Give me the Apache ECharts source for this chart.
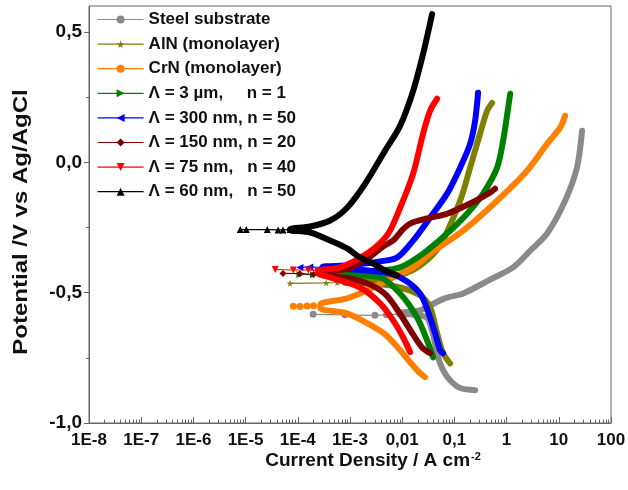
<!DOCTYPE html>
<html><head><meta charset="utf-8">
<script src="https://cdn.jsdelivr.net/npm/echarts@6/dist/echarts.min.js"></script>
<style>html,body{margin:0;padding:0;background:#fff}#c{width:628px;height:490px}</style>
</head><body><div id="c"></div>
<script>
// ---- axes ----
const xTickValues = [1e-8,1e-7,1e-6,1e-5,1e-4,1e-3,1e-2,1e-1,1,10,100];
const xTickLabels = ['1E-8','1E-7','1E-6','1E-5','1E-4','1E-3','0,01','0,1','1','10','100'];
const xMinorMultipliers = [2,3,4,5,6,7,8,9];
const yTickValues = [-1,-0.5,0,0.5];
const yTickLabels = ['-1,0','-0,5','0,0','0,5'];
const yMinorTicks = [-0.75,-0.25,0.25];

// ---- series names / colors ----
const seriesNames = ['Steel substrate','AlN (monolayer)','CrN (monolayer)','\u039b = 3 \u00b5m,     n = 1','\u039b = 300 nm, n = 50','\u039b = 150 nm, n = 20','\u039b = 75 nm,   n = 40','\u039b = 60 nm,   n = 50'];
const seriesColors = ['#8a8a8a','#808000','#ff8000','#008000','#0000ff','#800000','#ff0000','#000000'];

// ---- data: [current density A/cm2, potential V] ----
const steelTail = [[1.97e-4,-0.583],[8.0e-4,-0.585],[3.0e-3,-0.587],[5.0e-3,-0.585],[9.0e-3,-0.581]];
const steelCathodic = [[0.249,-0.874],[0.129,-0.866],[0.0826,-0.836],[0.0607,-0.797],[0.0488,-0.748],[0.039,-0.66],[0.031,-0.60],[0.022,-0.587],[0.0142,-0.583],[0.009,-0.582]];
const steelAnodic = [[0.009,-0.579],[0.022,-0.568],[0.0342,-0.549],[0.065,-0.522],[0.147,-0.503],[0.48,-0.45],[1.33,-0.403],[2.8,-0.34],[5.96,-0.273],[13.2,-0.147],[22.3,-0.02],[27.9,0.121]];

const alnTail = [[7.1e-5,-0.464],[3.5e-4,-0.462],[5.7e-4,-0.461],[8.0e-4,-0.46]];
const alnCathodic = [[0.0826,-0.771],[0.0607,-0.732],[0.0467,-0.656],[0.0342,-0.556],[0.022,-0.51],[0.00912,-0.48],[0.003,-0.466],[0.0008,-0.462]];
const alnAnodic = [[0.0008,-0.458],[0.003,-0.452],[0.0114,-0.426],[0.0251,-0.388],[0.053,-0.319],[0.129,-0.147],[0.2,-0.02],[0.31,0.11],[0.423,0.198],[0.527,0.228]];

const crnTail = [[8.2e-5,-0.552],[1.1e-4,-0.553],[1.5e-4,-0.551],[2.0e-4,-0.55]];
const crnCathodic = [[0.0274,-0.824],[0.022,-0.809],[0.0142,-0.767],[0.0091,-0.72],[0.0047,-0.66],[0.00213,-0.617],[0.00088,-0.579],[0.00027,-0.56]];
const crnAnodic = [[0.00027,-0.545],[0.00088,-0.522],[0.00213,-0.491],[0.00514,-0.453],[0.0162,-0.403],[0.0342,-0.35],[0.147,-0.262],[0.658,-0.147],[2.47,-0.032],[5.96,0.071],[10.6,0.133],[13.2,0.179]];

const l3umTail = [[1.1e-4,-0.43],[2.0e-4,-0.431],[3.0e-4,-0.428]];
const l3umCathodic = [[0.0391,-0.748],[0.03,-0.683],[0.0193,-0.595],[0.00912,-0.503],[0.00378,-0.441],[0.001,-0.432],[0.0003,-0.43]];
const l3umAnodic = [[0.0003,-0.426],[0.00378,-0.415],[0.00912,-0.403],[0.0251,-0.35],[0.0724,-0.273],[0.175,-0.197],[0.354,-0.12],[0.658,-0.02],[0.857,0.083],[1.02,0.18],[1.17,0.263]];

const l300Tail = [[1.1e-4,-0.403],[1.7e-4,-0.401],[2.7e-4,-0.404]];
const l300Cathodic = [[0.0607,-0.732],[0.0532,-0.721],[0.0427,-0.656],[0.0342,-0.595],[0.022,-0.503],[0.00912,-0.441],[0.0038,-0.42],[0.001,-0.41],[0.0003,-0.406]];
const l300Anodic = [[0.0003,-0.401],[0.001,-0.395],[0.0038,-0.38],[0.008,-0.365],[0.0162,-0.30],[0.0342,-0.212],[0.0724,-0.12],[0.129,-0.02],[0.2,0.071],[0.249,0.159],[0.284,0.267]];

const l150Tail = [[5.2e-5,-0.426],[1.1e-4,-0.427],[2.0e-4,-0.43]];
const l150Cathodic = [[0.0342,-0.732],[0.024,-0.71],[0.015,-0.65],[0.009,-0.58],[0.005,-0.51],[0.0025,-0.47],[0.001,-0.445],[0.0003,-0.432]];
const l150Anodic = [[0.0003,-0.425],[0.001,-0.405],[0.0025,-0.36],[0.0045,-0.32],[0.0067,-0.30],[0.01,-0.26],[0.0142,-0.235],[0.03,-0.215],[0.0724,-0.197],[0.2,-0.158],[0.48,-0.116],[0.6,-0.101]];

const l75Tail = [[3.7e-5,-0.411],[8.2e-5,-0.413],[1.6e-4,-0.413],[2.4e-4,-0.415]];
const l75Cathodic = [[0.0142,-0.728],[0.0104,-0.671],[0.0067,-0.606],[0.00378,-0.541],[0.00156,-0.48],[0.000417,-0.441],[0.000245,-0.425]];
const l75Anodic = [[0.000245,-0.416],[0.00065,-0.403],[0.00213,-0.35],[0.00514,-0.28],[0.00912,-0.174],[0.0162,-0.043],[0.0251,0.11],[0.0342,0.198],[0.0467,0.244]];

const l60Tail = [[7.9e-6,-0.258],[1.03e-5,-0.258],[2.6e-5,-0.258],[4.2e-5,-0.259],[5.2e-5,-0.259],[7.1e-5,-0.258]];
const l60Cathodic = [[0.008,-0.434],[0.0047,-0.415],[0.00277,-0.388],[0.00156,-0.365],[0.00088,-0.33],[0.000417,-0.30],[0.000173,-0.269],[0.000071,-0.26]];
const l60Anodic = [[0.000071,-0.256],[0.000173,-0.246],[0.000417,-0.223],[0.00088,-0.174],[0.00195,-0.082],[0.0047,0.045],[0.0091,0.14],[0.0162,0.274],[0.0251,0.416],[0.0374,0.569]];

const tails = [steelTail, alnTail, crnTail, l3umTail, l300Tail, l150Tail, l75Tail, l60Tail];
const cathodics = [steelCathodic, alnCathodic, crnCathodic, l3umCathodic, l300Cathodic, l150Cathodic, l75Cathodic, l60Cathodic];
const anodics = [steelAnodic, alnAnodic, crnAnodic, l3umAnodic, l300Anodic, l150Anodic, l75Anodic, l60Anodic];

const STAR = 'path://M50,0 L61,35 L98,35 L68,57 L79,91 L50,70 L21,91 L32,57 L2,35 L39,35 Z';
const seriesSymbols = ['circle', STAR, 'circle',
  'path://M0,0 L10,5 L0,10 Z', 'path://M10,0 L0,5 L10,10 Z', 'diamond',
  'path://M0,0 L10,0 L5,10 Z', 'triangle'];

const xMinorTicks = [];
xTickValues.slice(0, -1).forEach(d => xMinorMultipliers.forEach(m => xMinorTicks.push(d * m)));

const FONT = 'Arial, "Liberation Sans", Helvetica, sans-serif';
const AXIS_COLOR = '#666';

const series = [];
seriesNames.forEach((name, k) => {
  series.push({
    type: 'line', name, data: tails[k], symbol: seriesSymbols[k], symbolSize: 7,
    showSymbol: true, showAllSymbol: true, animation: false, silent: true,
    lineStyle: { color: seriesColors[k], width: 1.2 }, itemStyle: { color: seriesColors[k] },
    z: 2 + k
  });
  series.push({
    type: 'line', name, data: cathodics[k].concat(anodics[k]), symbol: 'none',
    animation: false, silent: true, smooth: 0.3,
    lineStyle: { color: seriesColors[k], width: 6, cap: 'round', join: 'round' },
    itemStyle: { color: seriesColors[k] }, z: 2 + k
  });
});

const chart = echarts.init(document.getElementById('c'), null, { renderer: 'canvas' });
chart.setOption({
  animation: false,
  backgroundColor: '#fff',
  grid: { left: 89, right: 17, top: 6, bottom: 67, show: true, borderColor: AXIS_COLOR, borderWidth: 1, outerBoundsMode: 'none' },
  legend: {
    data: seriesNames, orient: 'vertical', left: 92, top: 6,
    itemWidth: 46, itemHeight: 10, itemGap: 7.6,
    textStyle: { fontFamily: FONT, fontWeight: 'bold', fontSize: 17, color: '#111' },
    lineStyle: { width: 1.2 }
  },
  xAxis: [{
    type: 'log', logBase: 10, min: 1e-8, max: 100, position: 'bottom',
    axisLine: { onZero: false, lineStyle: { color: AXIS_COLOR, width: 1 } },
    axisTick: { inside: true, length: 6, customValues: xTickValues, lineStyle: { color: AXIS_COLOR } },
    axisLabel: { customValues: xTickValues, margin: 9, fontFamily: FONT, fontWeight: 'bold', fontSize: 17, color: '#111',
      formatter: v => xTickLabels[Math.round(Math.log10(v)) + 8] },
    splitLine: { show: false }
  }, {
    type: 'log', logBase: 10, min: 1e-8, max: 100, gridIndex: 0, position: 'bottom',
    axisLine: { show: false, onZero: false }, axisLabel: { show: false }, splitLine: { show: false },
    axisTick: { inside: true, length: 3.5, customValues: xMinorTicks, lineStyle: { color: AXIS_COLOR } }
  }],
  yAxis: [{
    type: 'value', min: -1, max: 0.6, position: 'left',
    axisLine: { show: true, onZero: false, lineStyle: { color: AXIS_COLOR, width: 1 } },
    axisTick: { show: true, inside: false, length: 5, customValues: yTickValues, lineStyle: { color: AXIS_COLOR } },
    axisLabel: { customValues: yTickValues, margin: 7, fontFamily: FONT, fontWeight: 'bold', fontSize: 19, color: '#111',
      formatter: v => { const i = yTickValues.findIndex(t => Math.abs(t - v) < 1e-9); return i < 0 ? '' : yTickLabels[i]; } },
    splitLine: { show: false }
  }, {
    type: 'value', min: -1, max: 0.6, gridIndex: 0, position: 'left',
    axisLine: { show: false, onZero: false }, axisLabel: { show: false }, splitLine: { show: false },
    axisTick: { show: true, inside: false, length: 3, customValues: yMinorTicks, lineStyle: { color: AXIS_COLOR } }
  }],
  graphic: [{
    type: 'text', x: 21, y: 222, rotation: Math.PI / 2, scaleX: 1.2, scaleY: 1,
    style: { text: 'Potential /V vs Ag/AgCl', fontFamily: FONT, fontWeight: 'bold', fontSize: 20, fill: '#111',
      align: 'center', verticalAlign: 'middle', textAlign: 'center', textVerticalAlign: 'middle' }
  }, {
    type: 'text', x: 373, y: 461,
    style: { text: 'Current Density / A cm{sup|-2}', fontFamily: FONT, fontWeight: 'bold', fontSize: 19, fill: '#111',
      align: 'center', verticalAlign: 'middle', textAlign: 'center', textVerticalAlign: 'middle',
      rich: { sup: { fontFamily: FONT, fontWeight: 'bold', fontSize: 11, fill: '#111', verticalAlign: 'top', padding: [0, 0, 8, 1] } } }
  }],
  series
});
</script></body></html>
